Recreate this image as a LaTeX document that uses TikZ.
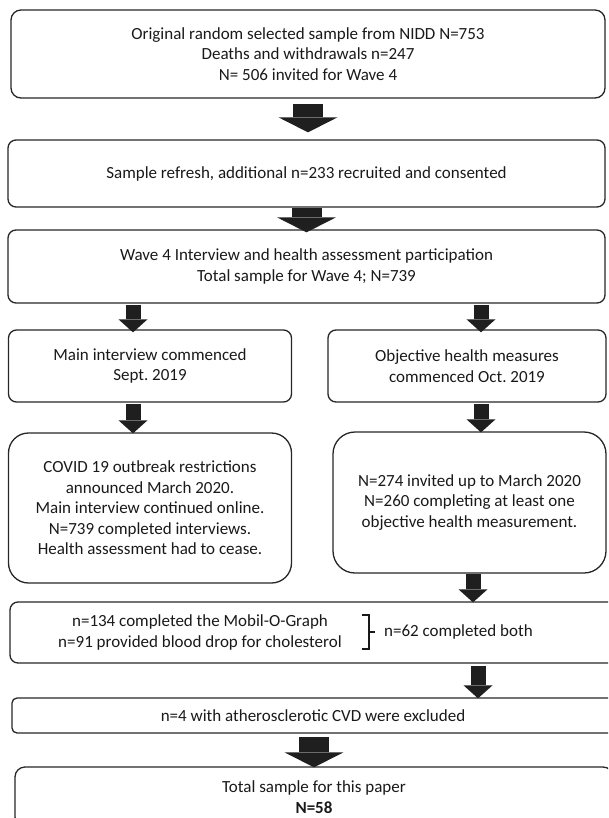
\documentclass[tikz,border=0pt]{standalone}
\usepackage{fontspec}
\setmainfont{Carlito}
\usetikzlibrary{arrows.meta}
\frenchspacing

\begin{document}
\begin{tikzpicture}[x=1pt,y=-1pt,
  font=\fontsize{17pt}{20.5pt}\selectfont,
  box/.style={draw=black!85,line width=1.3pt,rounded corners=8pt,align=center,inner sep=0pt,text=black!90},
  bigarrow/.style={draw=black!88,line width=30pt,-{Triangle[length=15pt,width=59pt,line width=0pt]}},
  smallarrow/.style={draw=black!88,line width=15pt,-{Triangle[length=13pt,width=29pt,line width=0pt]}}]
\useasboundingbox (0,0) rectangle (608,818);
\clip (0,0) rectangle (608,818);

\coordinate (la) at (133,0);
\coordinate (ra) at (481,0);
\coordinate (rb) at (473,0);
\coordinate (rc) at (478,0);

\node[box,rounded corners=10pt,minimum width=594pt,minimum height=88pt] (b1) at (308,54)
  {Original random selected sample from NIDD N=753\\Deaths and withdrawals n=247\\N= 506 invited for Wave 4};
\node[box,minimum width=597pt,minimum height=67pt] (b2) at (306.5,173.5)
  {Sample refresh, additional n=233 recruited and consented};
\node[box,minimum width=597pt,minimum height=73pt] (b3) at (306.5,266.5)
  {Wave 4 Interview and health assessment participation\\Total sample for Wave 4; N=739};

\node[box,minimum width=283pt,minimum height=72pt] (b4) at (150,366)
  {Main interview commenced\\Sept. 2019};
\node[box,minimum width=278pt,minimum height=72pt] (b5) at (467,366)
  {Objective health measures\\commenced Oct. 2019};
\node[box,rounded corners=20pt,minimum width=283pt,minimum height=150pt] (b6) at (150,508)
  {COVID 19 outbreak restrictions\\announced March 2020.\\Main interview continued online.\\N=739 completed interviews.\\Health assessment had to cease.};
\node[box,rounded corners=22pt,minimum width=273pt,minimum height=141pt] (b7) at (469.5,502.5)
  {N=274 invited up to March 2020\\N=260 completing at least one\\objective health measurement.};

\node[box,minimum width=606pt,minimum height=61pt] (b8) at (313,632.5) {};
\node (mob) at (200,632.5) [align=center,text=black!90]
  {n=134 completed the Mobil-O-Graph\\n=91 provided blood drop for cholesterol};
\draw[line width=1.7pt,black!90] (362,615) -- (369,615) -- (369,649) -- (362,649)
  (369,632) -- (375,632);
\node (both) at (384,632) [anchor=west,inner sep=0pt,text=black!90] {n=62 completed both};

\node[box,rounded corners=5pt,minimum width=602pt,minimum height=35pt] (b9) at (313,715.5)
  {n=4 with atherosclerotic CVD were excluded};
\node[box,rounded corners=10pt,minimum width=598pt,minimum height=60pt] (b10) at (314,797)
  {Total sample for this paper\\\textbf{N=58}};

\draw[bigarrow,shorten <=5pt,shorten >=7pt] (b1.south) -- (b2.north -| b1.south);
\draw[bigarrow,shorten >=-3pt] (b2.south) -- (b3.north -| b2.south);
\draw[smallarrow,shorten <=1pt,shorten >=-3pt] (b3.south -| la) -- (b4.north -| la);
\draw[smallarrow,shorten <=1pt,shorten >=-3pt] (b3.south -| ra) -- (b5.north -| ra);
\draw[smallarrow,shorten <=1pt,shorten >=-1pt] (b4.south -| la) -- (b6.north -| la);
\draw[smallarrow,shorten <=1pt,shorten >=-1pt] (b5.south -| ra) -- (b7.north -| ra);
\draw[smallarrow,shorten >=-1pt] (b7.south -| rb) -- (b8.north -| rb);
\draw[smallarrow,shorten <=2pt,shorten >=-1pt] (b8.south -| rc) -- (b9.north -| rc);
\draw[bigarrow,shorten <=3pt,shorten >=-1pt] (b9.south -| b10.north) -- (b10.north);
\end{tikzpicture}
\end{document}
